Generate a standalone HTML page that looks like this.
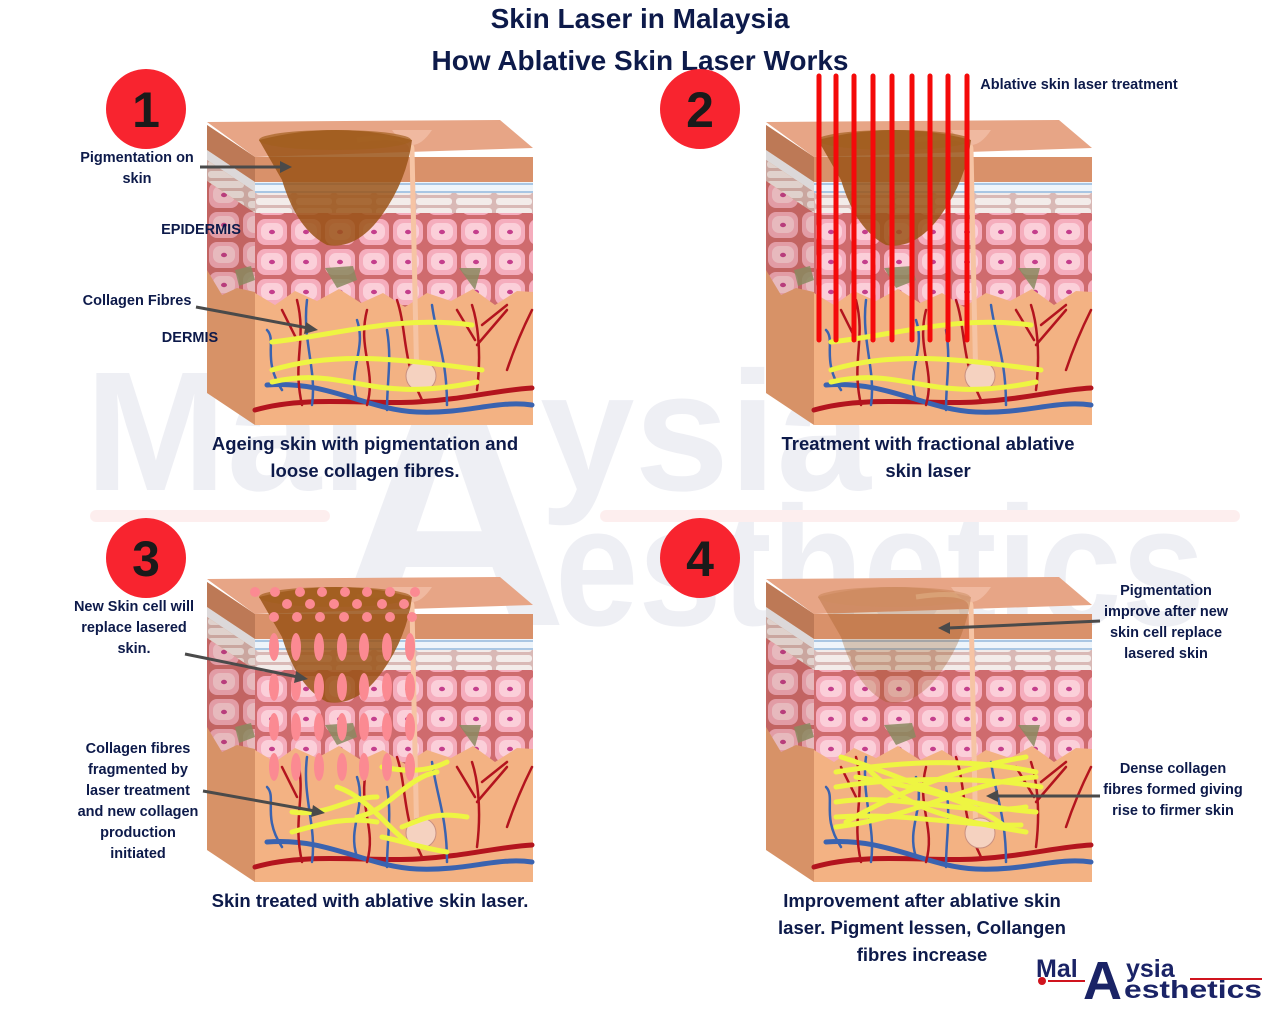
<!DOCTYPE html>
<html><head><meta charset="utf-8"><style>
html,body{margin:0;padding:0;background:#fff;overflow:hidden;width:1280px;height:1024px}
svg{display:block}
text{font-family:"Liberation Sans",sans-serif;font-weight:bold;fill:#0d1a4a}
</style></head><body>
<svg width="1280" height="1024" viewBox="0 0 1280 1024" xmlns="http://www.w3.org/2000/svg" overflow="hidden">
<defs>
<pattern id="cells" width="34" height="30" patternUnits="userSpaceOnUse">
<rect width="34" height="30" fill="#cf6b6e"/>
<rect x="2" y="2" width="30" height="26" rx="8" fill="#f5adbd"/>
<rect x="6" y="6" width="22" height="17" rx="7" fill="#fbcfd9"/>
<ellipse cx="17" cy="15" rx="3" ry="2.2" fill="#c43e8c"/>
</pattern>
<pattern id="strat" width="40" height="10" patternUnits="userSpaceOnUse">
<rect width="40" height="10" fill="#d9b9b6"/>
<rect x="1" y="1" width="36" height="7" rx="3" fill="#f3ecea"/>
</pattern>
<g id="layers">
<rect x="0" y="0" width="278" height="268" fill="#f3b283"/>
<rect x="0" y="0" width="278" height="25" fill="#d9916a"/>
<rect x="0" y="25" width="278" height="10" fill="#eef4fa"/>
<rect x="0" y="26" width="278" height="2" fill="#a9c6e3"/>
<rect x="0" y="34" width="278" height="2" fill="#a9c6e3"/>
<rect x="0" y="36" width="278" height="20" fill="url(#strat)"/>
<path d="M0 56 H278 V135 L262 134 L240 148 L218 132 L196 144 L172 136 L150 150 L128 136 L106 146 L84 132 L62 144 L40 134 L20 148 L0 136 Z" fill="url(#cells)"/>
</g>
<g id="vessels" fill="none" stroke-linecap="round">
<path d="M48 290 C100 275 160 285 210 282 S290 270 325 268" stroke="#b3141e" stroke-width="5"/>
<path d="M60 265 C120 260 160 290 210 292 S290 280 325 285" stroke="#3a63b0" stroke-width="5"/>
<g stroke="#b3141e" stroke-width="2.5">
<path d="M95 285 C85 240 100 220 90 180"/><path d="M90 220 L75 190"/>
<path d="M160 285 C170 250 150 230 160 190"/>
<path d="M215 280 C195 240 200 210 190 180"/>
<path d="M270 270 C275 230 270 200 265 185"/><path d="M268 220 L250 190"/><path d="M270 225 L300 190"/><path d="M275 205 L300 185"/>
<path d="M300 250 C310 220 320 200 325 190"/>
</g>
<g stroke="#3a63b0" stroke-width="2.5">
<path d="M75 270 C55 240 70 220 60 210"/><path d="M105 285 C110 250 95 220 100 180"/>
<path d="M150 280 C140 250 160 230 150 200"/>
<path d="M240 285 C240 240 230 220 225 185"/><path d="M180 290 C180 260 185 240 180 210"/>
</g>
</g>
<g id="block">
<polygon points="0,5 48,37 48,305 0,273" fill="#e8a274"/>
<polygon points="0,5 48,37 48,62 0,30" fill="#c98460"/>
<polygon points="0,30 48,62 48,72 0,40" fill="#eef4fa"/>
<polygon points="0,40 48,72 48,93 0,61" fill="url(#strat)"/>
<polygon points="0,61 48,93 48,172 30,168 15,175 0,150" fill="url(#cells)"/>
<polygon points="0,5 48,37 48,305 0,273" fill="#7a3b20" opacity="0.15"/>
<svg x="48" y="37" width="278" height="268" overflow="hidden"><use href="#layers"/></svg>
<use href="#vessels"/>
<polygon points="0,2 293,0 326,28 48,37" fill="#e7a586"/>
<path d="M150 20 Q205 12 205 30 L210 270" stroke="#f6c4a4" stroke-width="5" fill="none"/>
<path d="M185 10 Q205 40 225 10" fill="#f0b9a0"/>
<circle cx="214" cy="256" r="15" fill="#f5d2c0" stroke="#c99080"/>
<path d="M28 150 l16 -4 l4 14 l-16 6 z" fill="#8a8a60" opacity=".85"/>
<path d="M118 148 l28 -2 l4 14 l-20 8 z" fill="#8a8a60" opacity=".85"/>
<path d="M252 148 l22 0 l-6 22 z" fill="#8a8a60" opacity=".85"/>
</g>
<g id="pig">
<path d="M52 20 Q130 0 205 20 Q200 60 175 95 Q150 130 120 125 Q90 110 75 60 Z" fill="#9a5418" opacity="0.85"/>
<ellipse cx="128" cy="20" rx="76" ry="10" fill="#a2601e" opacity=".7"/>
</g>
<g id="coll1" fill="none" stroke="#eef542" stroke-width="5" stroke-linecap="round">
<path d="M65 222 C130 215 190 195 265 205"/>
<path d="M65 250 C130 230 200 240 275 250"/>
<path d="M65 262 C140 245 160 285 270 262"/>
</g>
</defs>

<text x="640" y="28" font-size="28" text-anchor="middle">Skin Laser in Malaysia</text>
<text x="640" y="70" font-size="28" text-anchor="middle">How Ablative Skin Laser Works</text>

<g opacity="0.08" style="font-family:'Liberation Sans',sans-serif;font-weight:bold">
<text x="85" y="490" font-size="170" style="fill:#3a4080">Mal</text>
<text x="540" y="490" font-size="170" style="fill:#3a4080">ysia</text>
<text x="330" y="625" font-size="330" style="fill:#3a4080">A</text>
<text x="555" y="625" font-size="170" style="fill:#3a4080" textLength="650" lengthAdjust="spacingAndGlyphs">esthetics</text>
<rect x="90" y="510" width="240" height="12" rx="6" fill="#e33"/>
<rect x="600" y="510" width="640" height="12" rx="6" fill="#e33"/>
</g>

<g transform="translate(207,120)"><use href="#block"/><use href="#pig"/><use href="#coll1"/></g>
<g transform="translate(766,120)"><use href="#block"/><use href="#pig"/><use href="#coll1"/></g>
<g stroke="#f40a0a" stroke-width="5" stroke-linecap="round">
<line x1="819" y1="76" x2="819" y2="340"/><line x1="836" y1="76" x2="836" y2="340"/><line x1="854" y1="76" x2="854" y2="340"/>
<line x1="873" y1="76" x2="873" y2="340"/><line x1="892" y1="76" x2="892" y2="340"/><line x1="912" y1="76" x2="912" y2="340"/>
<line x1="930" y1="76" x2="930" y2="340"/><line x1="948" y1="76" x2="948" y2="340"/><line x1="967" y1="76" x2="967" y2="340"/>
</g>
<g transform="translate(207,577)"><use href="#block"/><use href="#pig"/>
<g fill="none" stroke="#eef542" stroke-width="5" stroke-linecap="round">
<path d="M85 235 C120 240 140 220 170 220"/><path d="M85 255 C120 245 140 240 170 245"/>
<path d="M130 210 C160 220 180 250 200 265"/><path d="M150 240 C180 235 200 200 230 195"/>
<path d="M175 190 C200 195 220 195 240 185"/><path d="M195 250 C220 240 230 235 260 240"/><path d="M175 260 C200 265 210 270 240 275"/>
</g>
<g fill="#fb8a92">
<circle cx="48" cy="15" r="5"/><circle cx="68" cy="15" r="5"/><circle cx="93" cy="15" r="5"/><circle cx="115" cy="15" r="5"/><circle cx="138" cy="15" r="5"/><circle cx="160" cy="15" r="5"/><circle cx="183" cy="15" r="5"/><circle cx="208" cy="15" r="5"/>
<circle cx="80" cy="27" r="5"/><circle cx="103" cy="27" r="5"/><circle cx="127" cy="27" r="5"/><circle cx="150" cy="27" r="5"/><circle cx="175" cy="27" r="5"/><circle cx="197" cy="27" r="5"/>
<circle cx="67" cy="40" r="5"/><circle cx="90" cy="40" r="5"/><circle cx="113" cy="40" r="5"/><circle cx="137" cy="40" r="5"/><circle cx="160" cy="40" r="5"/><circle cx="183" cy="40" r="5"/><circle cx="205" cy="40" r="5"/>
<g id="ecol"><ellipse cx="67" cy="70" rx="5" ry="14"/><ellipse cx="67" cy="110" rx="5" ry="14"/><ellipse cx="67" cy="150" rx="5" ry="14"/><ellipse cx="67" cy="190" rx="5" ry="14"/></g>
<use href="#ecol" x="22"/><use href="#ecol" x="45"/><use href="#ecol" x="68"/><use href="#ecol" x="90"/><use href="#ecol" x="113"/><use href="#ecol" x="136"/>
</g>
</g>
<g transform="translate(766,577)"><use href="#block"/><use href="#pig" opacity="0.35"/>
<g fill="none" stroke="#eef542" stroke-width="5" stroke-linecap="round">
<path d="M70 195 C130 185 200 180 270 195"/><path d="M70 210 C130 200 220 200 275 210"/><path d="M70 225 C130 215 200 240 260 230"/>
<path d="M70 240 C140 235 200 250 255 248"/><path d="M75 180 C140 200 190 230 270 235"/><path d="M80 245 C140 210 200 190 260 180"/>
<path d="M100 190 C140 230 170 240 260 255"/><path d="M70 250 C150 240 200 205 270 200"/><path d="M90 200 C150 210 200 220 240 250"/>
</g></g>

<g>
<circle cx="146" cy="109" r="40" fill="#f8242f"/><text x="146" y="127" font-size="50" text-anchor="middle" style="fill:#1a1a1a">1</text>
<circle cx="700" cy="109" r="40" fill="#f8242f"/><text x="700" y="127" font-size="50" text-anchor="middle" style="fill:#1a1a1a">2</text>
<circle cx="146" cy="558" r="40" fill="#f8242f"/><text x="146" y="576" font-size="50" text-anchor="middle" style="fill:#1a1a1a">3</text>
<circle cx="700" cy="558" r="40" fill="#f8242f"/><text x="700" y="576" font-size="50" text-anchor="middle" style="fill:#1a1a1a">4</text>
</g>

<g stroke="#4a4a4a" stroke-width="3" fill="#4a4a4a">
<line x1="200" y1="167" x2="282" y2="167"/><polygon points="292,167 280,161 280,173" stroke="none"/>
<line x1="196" y1="307" x2="308" y2="328"/><polygon points="318,330 306,322 304,334" stroke="none"/>
<line x1="185" y1="654" x2="298" y2="677"/><polygon points="308,679 296,671 294,683" stroke="none"/>
<line x1="203" y1="791" x2="315" y2="811"/><polygon points="325,813 313,805 311,817" stroke="none"/>
<line x1="1100" y1="621" x2="948" y2="628"/><polygon points="938,628 950,622 950,634" stroke="none"/>
<line x1="1100" y1="796" x2="996" y2="796"/><polygon points="986,796 998,790 998,802" stroke="none"/>
</g>

<g font-size="14.5" text-anchor="middle">
<text x="137" y="162">Pigmentation on</text><text x="137" y="183">skin</text>
<text x="201" y="234">EPIDERMIS</text>
<text x="137" y="305">Collagen Fibres</text>
<text x="190" y="342">DERMIS</text>
<text x="1079" y="89">Ablative skin laser treatment</text>
<text x="134" y="611">New Skin cell will</text><text x="134" y="632">replace lasered</text><text x="134" y="653">skin.</text>
<text x="138" y="753">Collagen fibres</text><text x="138" y="774">fragmented by</text><text x="138" y="795">laser treatment</text><text x="138" y="816">and new collagen</text><text x="138" y="837">production</text><text x="138" y="858">initiated</text>
<text x="1166" y="595">Pigmentation</text><text x="1166" y="616">improve after new</text><text x="1166" y="637">skin cell replace</text><text x="1166" y="658">lasered skin</text>
<text x="1173" y="773">Dense collagen</text><text x="1173" y="794">fibres formed giving</text><text x="1173" y="815">rise to firmer skin</text>
</g>
<g font-size="18.5" text-anchor="middle">
<text x="365" y="450">Ageing skin with pigmentation and</text><text x="365" y="477">loose collagen fibres.</text>
<text x="928" y="450">Treatment with fractional ablative</text><text x="928" y="477">skin laser</text>
<text x="370" y="907">Skin treated with ablative skin laser.</text>
<text x="922" y="907">Improvement after ablative skin</text><text x="922" y="934">laser. Pigment lessen, Collangen</text><text x="922" y="961">fibres increase</text>
</g>

<g>
<text x="1036" y="977" font-size="25" style="fill:#1a2366">Mal</text>
<text x="1083" y="999" font-size="54" style="fill:#1a2366">A</text>
<text x="1126" y="977" font-size="25" style="fill:#1a2366">ysia</text>
<text x="1124" y="998" font-size="25" style="fill:#1a2366" textLength="138" lengthAdjust="spacingAndGlyphs">esthetics</text>
<line x1="1048" y1="981" x2="1085" y2="981" stroke="#d0141e" stroke-width="2"/>
<circle cx="1042" cy="981" r="4" fill="#d0141e"/>
<line x1="1190" y1="979" x2="1262" y2="979" stroke="#d0141e" stroke-width="2"/>
</g>
</svg>
</body></html>
